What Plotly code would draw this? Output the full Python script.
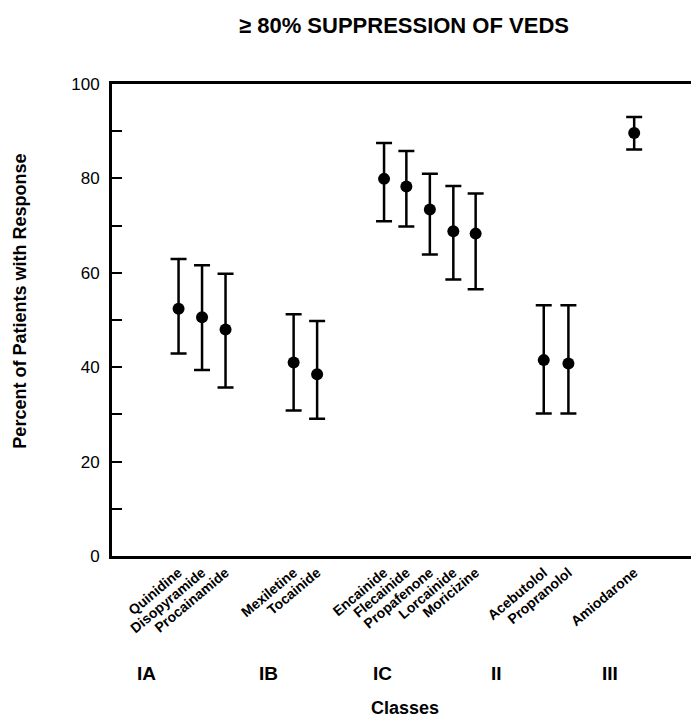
import plotly.graph_objects as go

# ---- data ----
drugs = ["Quinidine", "Disopyramide", "Procainamide", "Mexiletine", "Tocainide",
         "Encainide", "Flecainide", "Propafenone", "Lorcainide", "Moricizine",
         "Acebutolol", "Propranolol", "Amiodarone"]
drug_pos = [1, 2, 3, 5.9, 6.9, 9.75, 10.7, 11.7, 12.7, 13.65, 16.55, 17.6, 20.4]
percent = [52.4, 50.6, 48.0, 41.0, 38.5, 79.9, 78.3, 73.4, 68.8, 68.3, 41.5, 40.8, 89.6]
ci_upper = [62.9, 61.6, 59.8, 51.2, 49.8, 87.5, 85.8, 81.0, 78.4, 76.8, 53.1, 53.1, 93.0]
ci_lower = [42.9, 39.4, 35.7, 30.8, 29.1, 70.9, 69.8, 63.9, 58.6, 56.5, 30.2, 30.2, 86.1]
classes = ["IA", "IB", "IC", "II", "III"]
class_pos = [-0.35, 4.82, 9.67, 14.52, 19.37]
y_ticks = [0, 20, 40, 60, 80, 100]

FONT = "Liberation Sans, Arial, Helvetica, sans-serif"

err_plus = [u - v for u, v in zip(ci_upper, percent)]
err_minus = [v - l for v, l in zip(percent, ci_lower)]

fig = go.Figure()
fig.add_trace(go.Scatter(
    x=drug_pos, y=percent, mode="markers",
    marker=dict(color="black", size=12),
    error_y=dict(type="data", symmetric=False, array=err_plus, arrayminus=err_minus,
                 color="black", thickness=2.5, width=8),
    showlegend=False, hoverinfo="skip"))

def ann(text, x, y, size, xref="paper", angle=0):
    return dict(text="<b>%s</b>" % text, x=x, y=y, xref=xref, yref="paper",
                xanchor="center", yanchor="middle", textangle=angle,
                showarrow=False, font=dict(family=FONT, size=size, color="black"))

annotations = [
    ann("\u2265 80% SUPPRESSION OF VEDS", 0.504, 1.123, 22),
    ann("Percent of Patients with Response", -0.158, 0.54, 18, angle=-90),
    ann("Classes", 0.506, -0.322, 18),
]
for c, p in zip(classes, class_pos):
    annotations.append(ann(c, p, -0.248, 19, xref="x"))

fig.update_layout(
    width=691, height=717,
    margin=dict(l=112, r=0, t=84, b=161, pad=0),
    paper_bgcolor="white", plot_bgcolor="white",
    font=dict(family=FONT, color="black"),
    annotations=annotations,
    xaxis=dict(range=[-1.834, 22.82], showgrid=False, zeroline=False,
               showline=True, linecolor="black", linewidth=3, mirror=True,
               tickmode="array", tickvals=drug_pos, ticktext=drugs, ticks="",
               tickangle=-40, tickfont=dict(family=FONT, size=14, color="black", weight="bold")),
    yaxis=dict(range=[0, 100], showgrid=False, zeroline=False,
               showline=True, linecolor="black", linewidth=3, mirror=False,
               tickmode="array", tickvals=y_ticks, ticks="inside", ticklen=10, tickwidth=2,
               tickcolor="black", ticklabelstandoff=6,
               tickfont=dict(family=FONT, size=17, color="black"),
               minor=dict(dtick=10, ticks="inside", ticklen=10, tickwidth=2, tickcolor="black")),
)

fig.write_html("out.html")
